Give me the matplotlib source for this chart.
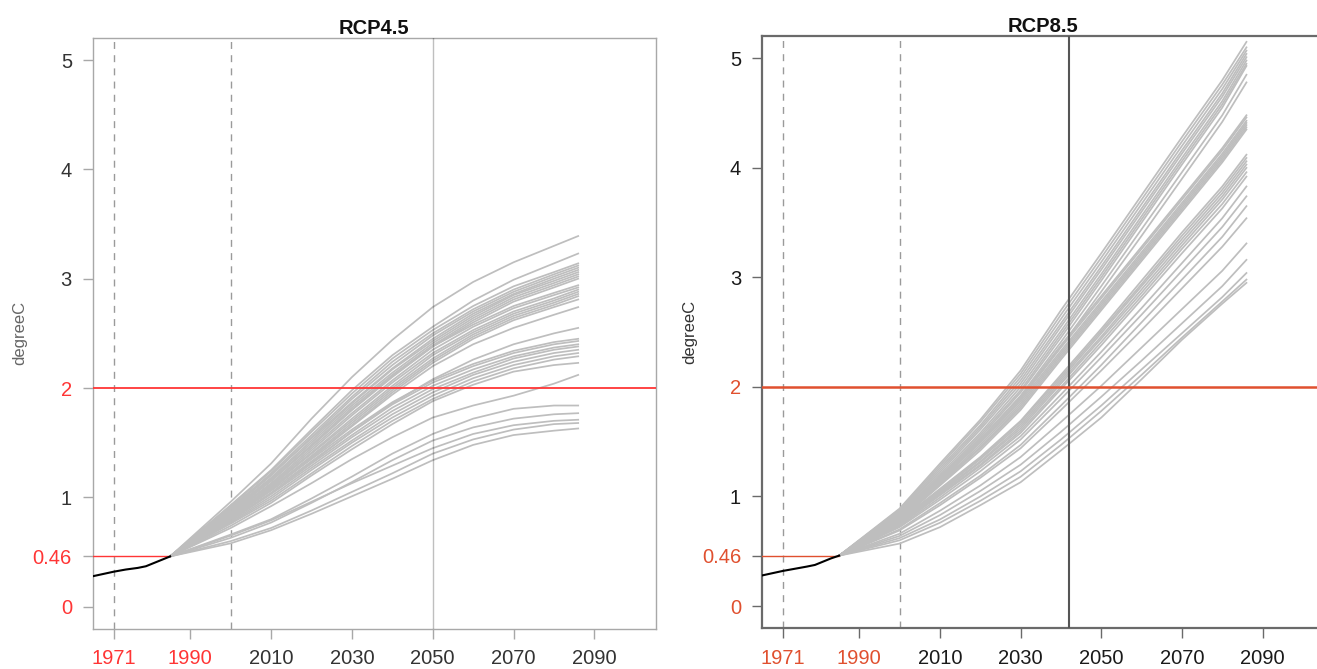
import matplotlib.pyplot as plt

plt.rcParams['font.family'] = ['Liberation Sans', 'DejaVu Sans']

proj_years = [1985, 2000, 2010, 2020, 2030, 2040, 2050, 2060, 2070, 2080, 2086]

# observed part (black)
hist_years = [1966, 1971, 1974, 1977, 1979, 1981, 1983, 1985]
hist_45 = [0.28, 0.32, 0.34, 0.355, 0.37, 0.40, 0.43, 0.46]
hist_85 = [0.28, 0.32, 0.34, 0.36, 0.375, 0.405, 0.435, 0.46]

# RCP4.5 model runs
rcp45 = [
    [0.46, 0.96, 1.31, 1.72, 2.10, 2.44, 2.74, 2.97, 3.15, 3.30, 3.39],
    [0.46, 0.93, 1.25, 1.62, 1.98, 2.30, 2.56, 2.80, 2.99, 3.14, 3.23],
    [0.46, 0.92, 1.24, 1.60, 1.95, 2.27, 2.53, 2.75, 2.93, 3.06, 3.14],
    [0.46, 0.90, 1.22, 1.57, 1.92, 2.24, 2.50, 2.72, 2.90, 3.04, 3.12],
    [0.46, 0.89, 1.20, 1.55, 1.90, 2.21, 2.48, 2.70, 2.88, 3.02, 3.10],
    [0.46, 0.91, 1.21, 1.54, 1.87, 2.18, 2.45, 2.68, 2.86, 3.00, 3.08],
    [0.46, 0.88, 1.18, 1.52, 1.86, 2.17, 2.43, 2.66, 2.85, 2.98, 3.06],
    [0.46, 0.87, 1.17, 1.50, 1.84, 2.14, 2.41, 2.64, 2.83, 2.96, 3.04],
    [0.46, 0.86, 1.15, 1.48, 1.82, 2.12, 2.39, 2.62, 2.81, 2.94, 3.02],
    [0.46, 0.88, 1.16, 1.47, 1.80, 2.11, 2.38, 2.60, 2.79, 2.92, 3.00],
    [0.46, 0.87, 1.15, 1.47, 1.80, 2.10, 2.38, 2.58, 2.75, 2.87, 2.94],
    [0.46, 0.85, 1.13, 1.45, 1.77, 2.07, 2.35, 2.56, 2.73, 2.85, 2.92],
    [0.46, 0.84, 1.12, 1.43, 1.75, 2.05, 2.32, 2.53, 2.70, 2.82, 2.90],
    [0.46, 0.86, 1.11, 1.41, 1.72, 2.02, 2.30, 2.51, 2.68, 2.80, 2.88],
    [0.46, 0.83, 1.10, 1.40, 1.70, 2.00, 2.27, 2.49, 2.66, 2.78, 2.86],
    [0.46, 0.82, 1.08, 1.38, 1.68, 1.98, 2.25, 2.47, 2.64, 2.76, 2.84],
    [0.46, 0.84, 1.09, 1.37, 1.66, 1.96, 2.23, 2.45, 2.62, 2.74, 2.81],
    [0.46, 0.82, 1.07, 1.36, 1.65, 1.94, 2.20, 2.40, 2.55, 2.67, 2.74],
    [0.46, 0.80, 1.04, 1.32, 1.60, 1.86, 2.08, 2.26, 2.40, 2.50, 2.55],
    [0.46, 0.83, 1.08, 1.35, 1.62, 1.87, 2.07, 2.22, 2.34, 2.42, 2.45],
    [0.46, 0.81, 1.06, 1.33, 1.60, 1.85, 2.05, 2.20, 2.32, 2.40, 2.43],
    [0.46, 0.80, 1.04, 1.31, 1.57, 1.82, 2.02, 2.17, 2.29, 2.37, 2.40],
    [0.46, 0.79, 1.03, 1.29, 1.55, 1.79, 1.99, 2.14, 2.27, 2.35, 2.38],
    [0.46, 0.78, 1.01, 1.27, 1.52, 1.76, 1.96, 2.12, 2.24, 2.32, 2.35],
    [0.46, 0.77, 0.99, 1.25, 1.50, 1.73, 1.93, 2.09, 2.21, 2.29, 2.32],
    [0.46, 0.76, 0.97, 1.22, 1.47, 1.70, 1.90, 2.06, 2.18, 2.26, 2.29],
    [0.46, 0.74, 0.95, 1.20, 1.44, 1.67, 1.88, 2.03, 2.15, 2.21, 2.23],
    [0.46, 0.72, 0.92, 1.13, 1.35, 1.55, 1.73, 1.84, 1.93, 2.04, 2.12],
    [0.46, 0.66, 0.80, 0.99, 1.19, 1.40, 1.58, 1.72, 1.81, 1.84, 1.84],
    [0.46, 0.63, 0.77, 0.95, 1.14, 1.34, 1.52, 1.64, 1.72, 1.76, 1.77],
    [0.46, 0.65, 0.79, 0.96, 1.13, 1.29, 1.45, 1.58, 1.66, 1.70, 1.71],
    [0.46, 0.60, 0.72, 0.88, 1.05, 1.22, 1.40, 1.53, 1.62, 1.67, 1.68],
    [0.46, 0.58, 0.70, 0.85, 1.01, 1.17, 1.34, 1.48, 1.57, 1.61, 1.63],
]

# RCP8.5 model runs
rcp85 = [
    [0.46, 0.89, 1.30, 1.70, 2.15, 2.70, 3.22, 3.75, 4.28, 4.80, 5.15],
    [0.46, 0.88, 1.28, 1.68, 2.12, 2.66, 3.18, 3.71, 4.24, 4.76, 5.10],
    [0.46, 0.87, 1.26, 1.65, 2.09, 2.62, 3.14, 3.67, 4.20, 4.72, 5.07],
    [0.46, 0.86, 1.24, 1.63, 2.06, 2.58, 3.10, 3.63, 4.16, 4.68, 5.04],
    [0.46, 0.85, 1.22, 1.61, 2.03, 2.55, 3.07, 3.60, 4.13, 4.65, 5.01],
    [0.46, 0.84, 1.20, 1.58, 2.00, 2.51, 3.03, 3.56, 4.09, 4.61, 4.98],
    [0.46, 0.83, 1.18, 1.56, 1.97, 2.48, 3.00, 3.53, 4.06, 4.58, 4.95],
    [0.46, 0.82, 1.17, 1.54, 1.95, 2.45, 2.97, 3.50, 4.03, 4.55, 4.93],
    [0.46, 0.82, 1.15, 1.52, 1.92, 2.41, 2.92, 3.44, 3.96, 4.48, 4.85],
    [0.46, 0.81, 1.14, 1.50, 1.89, 2.37, 2.87, 3.38, 3.90, 4.42, 4.78],
    [0.46, 0.83, 1.18, 1.52, 1.91, 2.38, 2.83, 3.28, 3.73, 4.18, 4.48],
    [0.46, 0.82, 1.16, 1.50, 1.89, 2.36, 2.81, 3.26, 3.71, 4.16, 4.46],
    [0.46, 0.81, 1.15, 1.49, 1.87, 2.33, 2.78, 3.23, 3.68, 4.13, 4.43],
    [0.46, 0.80, 1.13, 1.47, 1.85, 2.31, 2.76, 3.21, 3.66, 4.11, 4.41],
    [0.46, 0.80, 1.12, 1.45, 1.83, 2.29, 2.74, 3.19, 3.64, 4.09, 4.39],
    [0.46, 0.79, 1.11, 1.44, 1.81, 2.27, 2.72, 3.17, 3.62, 4.07, 4.37],
    [0.46, 0.78, 1.10, 1.42, 1.79, 2.25, 2.70, 3.15, 3.60, 4.05, 4.35],
    [0.46, 0.78, 1.07, 1.36, 1.69, 2.11, 2.53, 2.97, 3.41, 3.83, 4.12],
    [0.46, 0.77, 1.06, 1.35, 1.68, 2.09, 2.51, 2.94, 3.38, 3.80, 4.09],
    [0.46, 0.77, 1.05, 1.34, 1.66, 2.07, 2.49, 2.92, 3.35, 3.77, 4.06],
    [0.46, 0.76, 1.04, 1.32, 1.64, 2.05, 2.46, 2.89, 3.32, 3.74, 4.03],
    [0.46, 0.75, 1.03, 1.31, 1.62, 2.03, 2.44, 2.86, 3.29, 3.71, 4.00],
    [0.46, 0.75, 1.02, 1.29, 1.60, 2.00, 2.41, 2.83, 3.26, 3.67, 3.96],
    [0.46, 0.74, 1.01, 1.28, 1.58, 1.98, 2.38, 2.80, 3.22, 3.63, 3.92],
    [0.46, 0.73, 0.99, 1.26, 1.55, 1.93, 2.32, 2.72, 3.13, 3.54, 3.83],
    [0.46, 0.72, 0.97, 1.23, 1.52, 1.89, 2.27, 2.66, 3.06, 3.46, 3.74],
    [0.46, 0.70, 0.94, 1.19, 1.47, 1.83, 2.20, 2.59, 2.98, 3.37, 3.65],
    [0.46, 0.69, 0.92, 1.17, 1.44, 1.79, 2.15, 2.52, 2.90, 3.28, 3.54],
    [0.46, 0.66, 0.87, 1.10, 1.36, 1.68, 2.01, 2.36, 2.71, 3.06, 3.31],
    [0.46, 0.64, 0.83, 1.05, 1.29, 1.59, 1.91, 2.24, 2.58, 2.92, 3.16],
    [0.46, 0.62, 0.79, 1.00, 1.23, 1.52, 1.83, 2.16, 2.49, 2.82, 3.04],
    [0.46, 0.60, 0.76, 0.96, 1.18, 1.47, 1.78, 2.11, 2.45, 2.78, 2.98],
    [0.46, 0.57, 0.72, 0.92, 1.13, 1.42, 1.72, 2.07, 2.43, 2.76, 2.95],
]

xticks = [1971, 1990, 2010, 2030, 2050, 2070, 2090]
red_years = [1971, 1990]
yticks = [0, 0.46, 1, 2, 3, 4, 5]
ytick_labels = ['0', '0.46', '1', '2', '3', '4', '5']
red_levels = [0, 0.46, 2]
dashed_years = [1971, 2000]


def panel(ax, runs, hist, title, vyear, red, red_lw, frame, frame_lw, vcol, valpha, vlw, txt, labcol):
    for run in runs:
        ax.plot(proj_years, run, color='#bebebe', lw=1.25, zorder=2)
    for yr in dashed_years:
        ax.axvline(yr, color='#9a9a9a', lw=1.0, ls=(0, (5, 4.5)), zorder=1)
    ax.axvline(vyear, color=vcol, alpha=valpha, lw=vlw, zorder=3)
    ax.axhline(2, color=red, lw=red_lw, zorder=4)
    ax.hlines(0.46, 1960, 1985, color=red, lw=1.0, zorder=4)
    ax.plot(hist_years, hist, color='black', lw=1.5, zorder=5)

    ax.set_xlim(1965.84, 2105.16)
    ax.set_ylim(-0.2, 5.2)
    ax.set_xticks(xticks)
    ax.set_xticklabels([str(x) for x in xticks])
    ax.set_yticks(yticks)
    ax.set_yticklabels(ytick_labels)
    ax.tick_params(direction='out', length=7, width=1.0, color=frame,
                   labelsize=14.5, labelcolor=txt, pad=8)
    for lab, v in zip(ax.get_xticklabels(), xticks):
        if v in red_years:
            lab.set_color(red)
    for lab, v in zip(ax.get_yticklabels(), yticks):
        if v in red_levels:
            lab.set_color(red)
    ax.yaxis.get_major_ticks()[1].tick1line.set_color(red)
    for s in ax.spines.values():
        s.set_color(frame)
        s.set_linewidth(frame_lw)
    ax.set_title(title, fontsize=14.5, fontweight='bold', pad=2, color='#111111')
    ax.text(-0.129, 0.5, 'degreeC', transform=ax.transAxes, rotation=90,
            ha='center', va='center', fontsize=12, color=labcol)


fig = plt.figure(figsize=(13.17, 6.69), dpi=100)
ax1 = fig.add_axes([0.0704, 0.0604, 0.4274, 0.8826])
ax2 = fig.add_axes([0.5785, 0.0614, 0.4266, 0.8842])

panel(ax1, rcp45, hist_45, 'RCP4.5', 2050, '#ff3535', 1.3, '#a8a8a8', 1.0,
      'black', 0.25, 1.0, '#333333', '#666666')
panel(ax2, rcp85, hist_85, 'RCP8.5', 2042, '#e0502f', 1.8, '#6a6a6a', 1.6,
      '#555555', 1.0, 1.5, '#1a1a1a', '#333333')

fig.savefig('out.png', dpi=100)
